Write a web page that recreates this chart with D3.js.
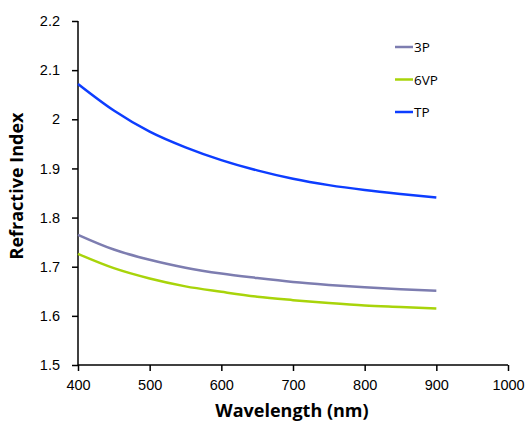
<!DOCTYPE html>
<html>
<head>
<meta charset="utf-8">
<script src="https://cdn.jsdelivr.net/npm/d3@7.9.0/dist/d3.min.js"></script>
<style>
  body { margin: 0; background: #fff; }
  svg { font-family: "Open Sans", "Noto Sans", sans-serif; }
</style>
</head>
<body>
<svg id="chart" width="530" height="422"></svg>
<script>
// wavelength (nm)
const wavelengths = [400, 450, 500, 550, 600, 650, 700, 750, 800, 850, 900];
const series3P  = [1.765, 1.735, 1.714, 1.698, 1.686, 1.677, 1.669, 1.663, 1.658, 1.654, 1.651];
const series6VP = [1.726, 1.697, 1.676, 1.660, 1.649, 1.639, 1.632, 1.626, 1.621, 1.618, 1.615];
const seriesTP  = [2.072, 2.018, 1.975, 1.943, 1.917, 1.896, 1.879, 1.866, 1.856, 1.848, 1.841];
const seriesNames = ["3P", "6VP", "TP"];
const xTicks = [400, 500, 600, 700, 800, 900, 1000];
const yTicks = [1.5, 1.6, 1.7, 1.8, 1.9, 2.0, 2.1, 2.2];

const colors = { "3P": "#7d7db0", "6VP": "#a8d40a", "TP": "#0d3dff" };

const svg = d3.select("#chart");
const margin = { left: 78, right: 22, top: 21, bottom: 57 };
const width = 530 - margin.left - margin.right;
const height = 422 - margin.top - margin.bottom;

const x = d3.scaleLinear().domain([400, 1000]).range([0, width]);
const y = d3.scaleLinear().domain([1.5, 2.2]).range([height, 0]);

const g = svg.append("g").attr("transform", `translate(${margin.left},${margin.top})`);

// axes
const xAxis = g.append("g")
  .attr("transform", `translate(0,${height})`)
  .call(d3.axisBottom(x).tickValues(xTicks).tickSize(6).tickPadding(9).tickFormat(d3.format("d")));
const yAxis = g.append("g")
  .call(d3.axisLeft(y).tickValues(yTicks).tickSize(6).tickPadding(12).tickFormat(d => d === 2 ? "2" : d3.format(".1f")(d)));

[xAxis, yAxis].forEach(a => {
  a.select(".domain").attr("stroke", "#000").attr("stroke-width", 1.5);
  a.selectAll(".tick line").attr("stroke", "#000").attr("stroke-width", 1.5);
  a.selectAll(".tick text").attr("fill", "#000").style("font-size", "14.5px");
});
xAxis.select(".domain").attr("d", `M0,0H${width}`);
yAxis.select(".domain").attr("d", `M0,${height}V0`);

// lines
const data = {
  "3P": series3P,
  "6VP": series6VP,
  "TP": seriesTP
};
const line = d3.line()
  .x((d, i) => x(wavelengths[i]))
  .y(d => y(d))
  .curve(d3.curveMonotoneX);

seriesNames.forEach(name => {
  g.append("path")
    .datum(data[name])
    .attr("fill", "none")
    .attr("stroke", colors[name])
    .attr("stroke-width", 2.5)
    .attr("d", line);
});

// legend
const legend = svg.append("g").attr("transform", "translate(395,47)");
seriesNames.forEach((name, i) => {
  const row = legend.append("g").attr("transform", `translate(0,${i * 32.5})`);
  row.append("line")
    .attr("x1", 0).attr("x2", 18)
    .attr("y1", 0).attr("y2", 0)
    .attr("stroke", colors[name])
    .attr("stroke-width", 2.5);
  row.append("text")
    .attr("x", 19).attr("y", 5)
    .style("font-size", "13.5px")
    .attr("fill", "#000")
    .text(name);
});

// axis titles
svg.append("text")
  .attr("x", 292)
  .attr("y", 417)
  .attr("text-anchor", "middle")
  .style("font-size", "18px")
  .style("font-weight", "bold")
  .text("Wavelength (nm)");

svg.append("text")
  .attr("transform", "translate(23,186) rotate(-90)")
  .attr("text-anchor", "middle")
  .style("font-size", "18px")
  .style("font-weight", "bold")
  .text("Refractive Index");
</script>
</body>
</html>
